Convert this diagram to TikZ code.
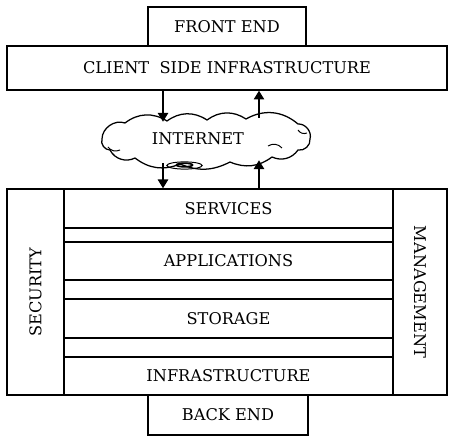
\documentclass[tikz,border=0pt]{standalone}
\usepackage{fontspec}
\setmainfont{DejaVu Serif}
\usetikzlibrary{arrows.meta, calc}

\begin{document}
\begin{tikzpicture}[
    box/.style={draw, line width=1pt, inner sep=0pt, font=\fontsize{11.5}{14}\selectfont},
    arr/.style={line width=1pt, -{Triangle[length=2.2mm, width=2.6mm]}}
]
    \useasboundingbox (0,0) rectangle (11.25,11);

    % Front end side
    \node[box, minimum width=3.95cm, minimum height=0.975cm] (front) at (5.675, 10.3375) {FRONT END};
    \node[box, minimum width=11cm, minimum height=1.1cm] (client) at (5.675, 9.3) {CLIENT\ \ SIDE INFRASTRUCTURE};

    % Internet cloud
    \node[inner sep=0pt, minimum width=5.2cm, minimum height=1.25cm] (cloud) at (5.175, 7.5) {};
    \node[font=\fontsize{11.5}{14}\selectfont] (internet) at (4.95, 7.525) {INTERNET};
    \draw[line width=0.9pt] (2.55, 7.525) to[bend left=55] (3.125, 7.925)
        to[bend left=35] (4.175, 7.975) to[bend left=35] (5.175, 8.0)
        to[bend left=35] (6.15, 8.025) to[bend left=35] (7.45, 7.9)
        to[bend left=55] (7.75, 7.525) to[bend left=55] (7.45, 7.25)
        to[bend left=40] (6.8, 7.075) to[bend left=30] (5.75, 6.95)
        to[bend left=25] (4.5, 6.9) to[bend left=30] (3.375, 7.05)
        to[bend left=45] (2.75, 7.25) to[bend left=55] cycle;
    \draw[line width=0.7pt] (6.7, 7.35) to[bend left=40] (7.05, 7.3);
    \draw[line width=0.7pt] (7.45, 7.75) to[bend right=40] (7.675, 7.675);
    \draw[line width=0.7pt] (2.7, 7.325) to[bend right=40] (3.0, 7.25);
    \draw[line width=0.7pt] (4.6125, 6.8625) ellipse (0.44 and 0.09);
    \draw[line width=1.2pt] (4.6125, 6.875) ellipse (0.2 and 0.045);

    % Back end side
    \node[box, rotate=90, minimum width=5.15cm, minimum height=1.425cm] (security) at (0.8875, 3.7) {SECURITY};
    \node[box, rotate=-90, minimum width=5.15cm, minimum height=1.35cm] (management) at (10.5, 3.7) {MANAGEMENT};
    \node[box, minimum width=8.225cm, minimum height=0.975cm] (services) at (5.7125, 5.7875) {SERVICES};
    \node[box, minimum width=8.225cm, minimum height=0.35cm] (gapA) at (5.7125, 5.125) {};
    \node[box, minimum width=8.225cm, minimum height=0.95cm] (applications) at (5.7125, 4.475) {APPLICATIONS};
    \node[box, minimum width=8.225cm, minimum height=0.475cm] (gapB) at (5.7125, 3.7625) {};
    \node[box, minimum width=8.225cm, minimum height=0.975cm] (storage) at (5.7125, 3.0375) {STORAGE};
    \node[box, minimum width=8.225cm, minimum height=0.475cm] (gapC) at (5.7125, 2.3125) {};
    \node[box, minimum width=8.225cm, minimum height=0.95cm] (infrastructure) at (5.7125, 1.6) {INFRASTRUCTURE};
    \node[box, minimum width=4cm, minimum height=1cm] (back) at (5.7, 0.625) {BACK END};

    % Arrows through the cloud
    \coordinate (dn) at (4.075, 0);
    \coordinate (up) at (6.475, 0);
    \draw[arr] (client.south -| dn) -- ($(cloud.north -| dn)+(0,-0.175)$);
    \draw[arr] ($(cloud.north -| up)+(0,-0.075)$) -- (client.south -| up);
    \draw[arr] ($(cloud.south -| dn)+(0,0.05)$) -- (services.north -| dn);
    \draw[arr] (services.north -| up) -- ($(cloud.south -| up)+(0,0.125)$);
\end{tikzpicture}
\end{document}
